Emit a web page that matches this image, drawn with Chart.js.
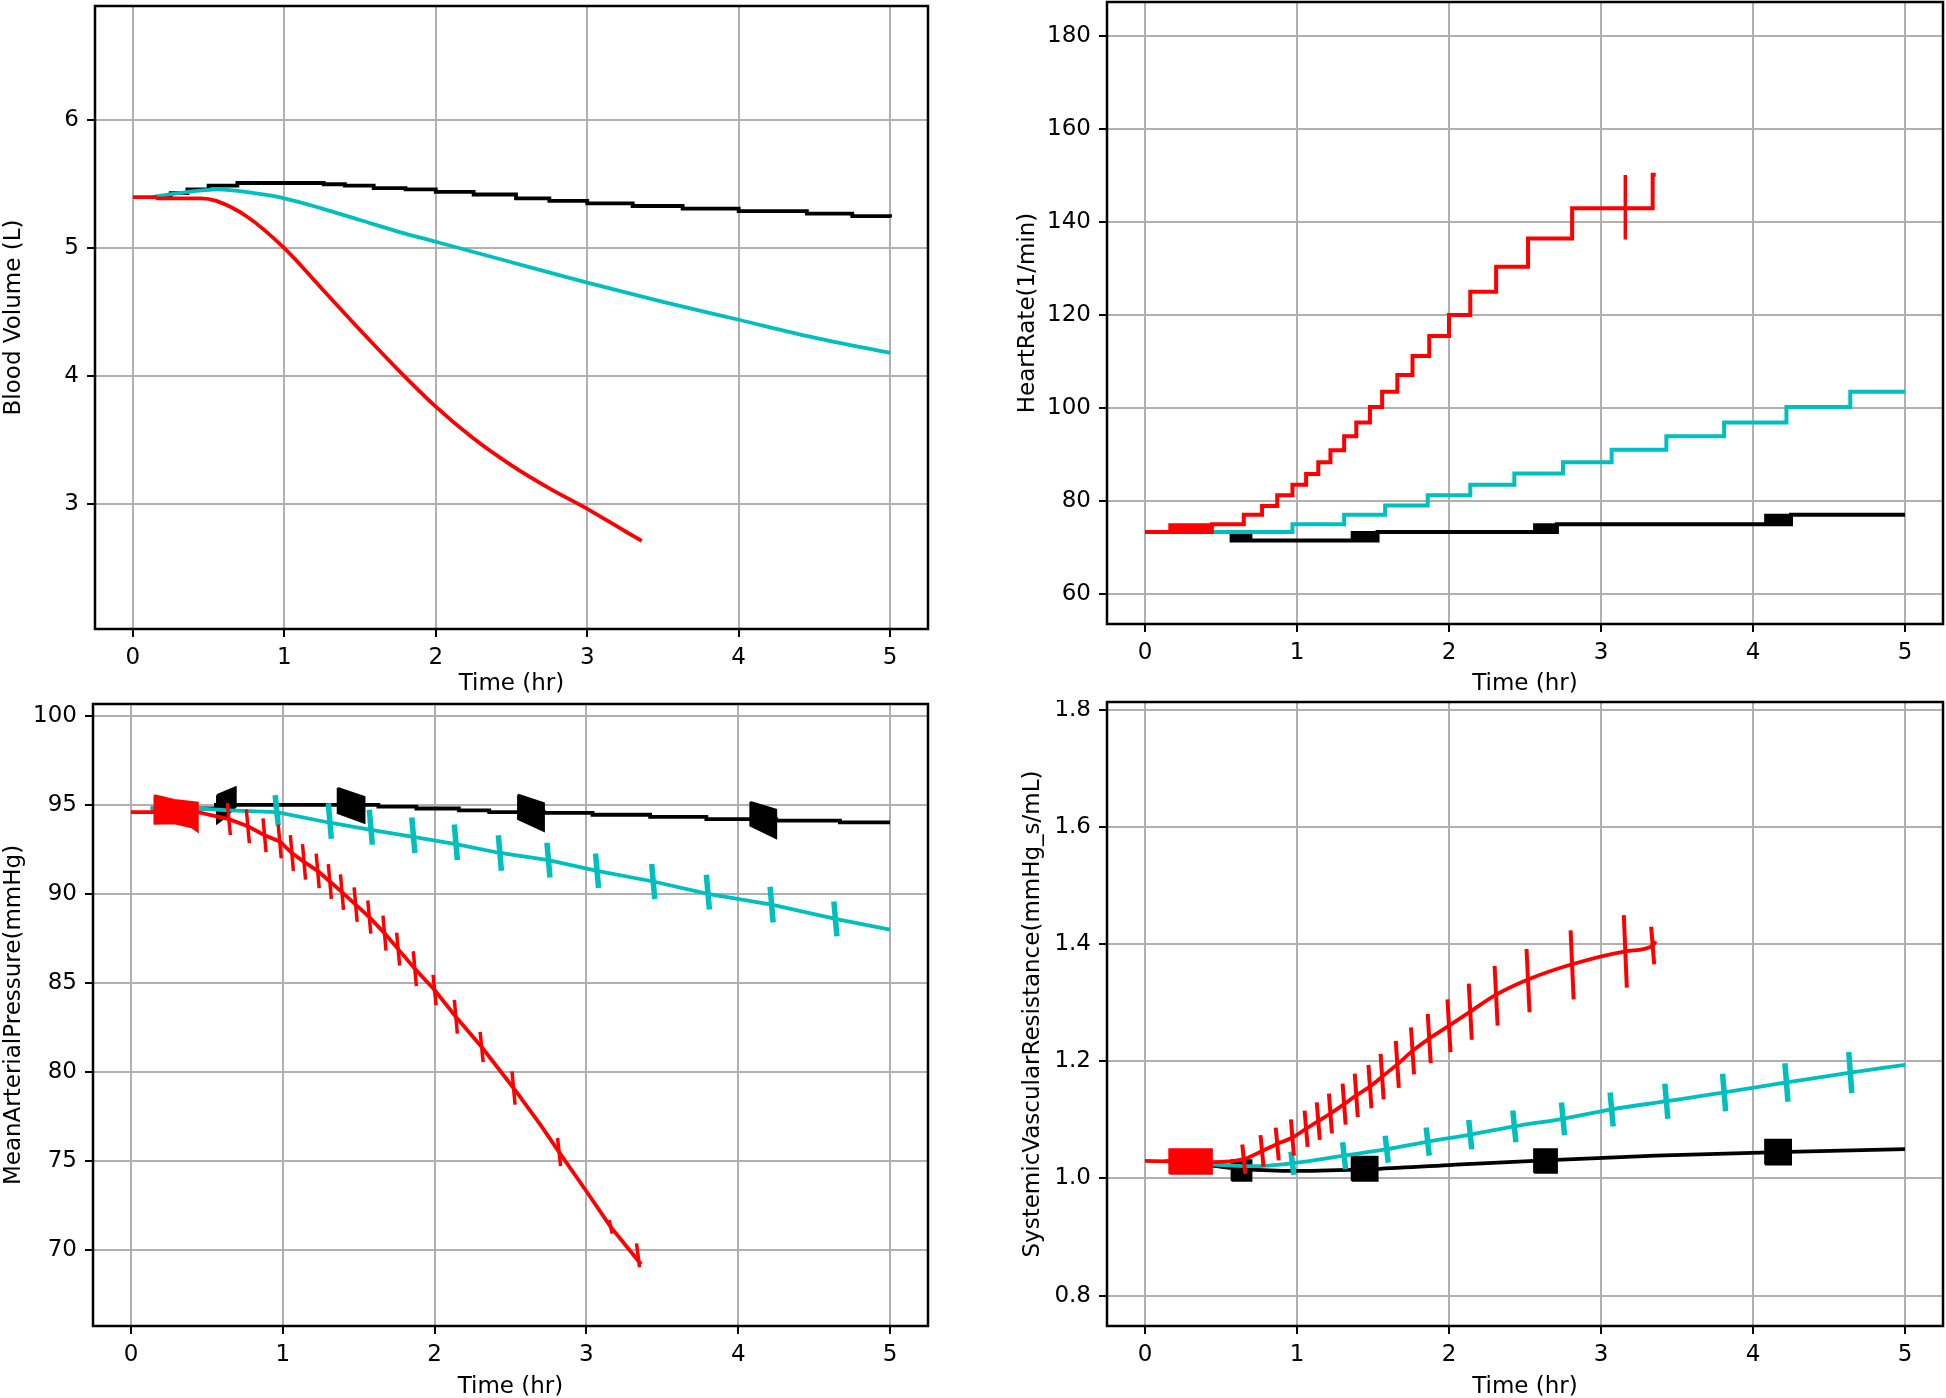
<!DOCTYPE html>
<html>
<head>
<meta charset="utf-8">
<script src="https://cdn.jsdelivr.net/npm/chart.js@4.4.0/dist/chart.umd.min.js"></script>
<style>
  body { margin: 0; background: #fff; width: 1946px; height: 1398px; position: relative; overflow: hidden; }
  canvas { position: absolute; }
</style>
</head>
<body>
<canvas id="bv" width="973" height="700" style="left:0;top:0"></canvas>
<canvas id="hr" width="973" height="700" style="left:973px;top:0"></canvas>
<canvas id="map" width="973" height="698" style="left:0;top:700px"></canvas>
<canvas id="svr" width="973" height="698" style="left:973px;top:700px"></canvas>
<script>
// ---- data ----
const timeTicks = [0, 1, 2, 3, 4, 5];

// Blood volume (L)
const bvTicks = [3, 4, 5, 6];
const bvRed = [[0, 5.40], [0.15, 5.40], [0.16, 5.39], [0.45, 5.39], [0.55, 5.37], [0.75, 5.25], [1.0, 5.0], [1.25, 4.68],
  [1.5, 4.36], [1.75, 4.05], [2.0, 3.76], [2.25, 3.51], [2.5, 3.30], [2.75, 3.12], [3.0, 2.96], [3.25, 2.785], [3.36, 2.71]];
const bvCyan = [[0.13, 5.40], [0.3, 5.43], [0.56, 5.46], [0.8, 5.43], [1.0, 5.39], [1.25, 5.31], [1.5, 5.22], [1.75, 5.13],
  [2.0, 5.05], [2.5, 4.89], [3.0, 4.73], [3.5, 4.58], [4.0, 4.44], [4.5, 4.30], [5.0, 4.18]];
const bvBlack = [[0.13, 5.40], [0.25, 5.43], [0.36, 5.46], [0.5, 5.49], [0.69, 5.51], [1.26, 5.50], [1.4, 5.49], [1.59, 5.47],
  [1.8, 5.46], [2.0, 5.44], [2.25, 5.42], [2.53, 5.39], [2.75, 5.37], [3.0, 5.35], [3.3, 5.33], [3.63, 5.31],
  [4.0, 5.29], [4.45, 5.27], [4.75, 5.25], [5.0, 5.24]];

// Heart rate (1/min), stepped
const hrTicks = [60, 80, 100, 120, 140, 160, 180];
const hrRed = [[0, 73.3], [0.44, 75.0], [0.65, 77.0], [0.77, 78.9], [0.87, 81.2], [0.97, 83.5], [1.06, 85.8], [1.14, 88.3],
  [1.22, 90.9], [1.31, 93.9], [1.39, 96.9], [1.48, 100.2], [1.56, 103.5], [1.66, 107.1], [1.76, 111.2], [1.87, 115.5],
  [2.0, 120.0], [2.14, 125.0], [2.31, 130.4], [2.52, 136.5], [2.81, 143.0], [3.34, 150.2], [3.36, 150.2]];
const hrRedBlocks = [[0.16, 0.44, 73.3, 75.0]];
const hrRedSpikes = [[3.16, 143.2, 6.95]];
const hrCyan = [[0.13, 73.3], [0.97, 75.0], [1.31, 77.0], [1.58, 79.0], [1.86, 81.2], [2.14, 83.5], [2.43, 85.9], [2.75, 88.3],
  [3.07, 91.0], [3.43, 93.9], [3.81, 96.9], [4.22, 100.2], [4.64, 103.5], [5.0, 103.5]];
const hrBlack = [[0.13, 73.3], [0.57, 71.5], [1.53, 73.3], [2.71, 75.0], [4.25, 77.0], [5.0, 77.0]];
const hrBlackBlocks = [[0.57, 0.70, 71.5, 73.3], [1.36, 1.53, 71.5, 73.3], [2.56, 2.71, 73.3, 75.0], [4.08, 4.25, 75.0, 77.0]];

// Mean arterial pressure (mmHg)
const mapTicks = [70, 75, 80, 85, 90, 95, 100];
const mapRed = [[0, 94.6], [0.44, 94.6], [0.645, 94.2], [0.77, 93.8], [0.88, 93.3], [0.98, 92.95], [1.06, 92.3], [1.14, 91.8],
  [1.23, 91.3], [1.31, 90.7], [1.39, 90.1], [1.48, 89.4], [1.57, 88.7], [1.67, 87.8], [1.76, 86.9], [1.87, 85.8],
  [2.0, 84.6], [2.14, 83.1], [2.31, 81.4], [2.52, 79.1], [2.7, 77.0], [2.82, 75.5], [3.0, 73.3], [3.16, 71.3], [3.36, 69.2]];
const mapRedBlock = [[0.155, 95.55], [0.285, 95.28], [0.44, 95.13], [0.44, 93.5], [0.40, 93.75], [0.285, 93.97], [0.155, 93.95], [0.155, 95.55]];
const mapRedSpikes = [[0.645, 94.2, 0.9], [0.77, 93.8, 0.95], [0.88, 93.3, 0.95], [0.98, 92.95, 0.95], [1.06, 92.3, 1.0],
  [1.14, 91.8, 1.0], [1.23, 91.3, 0.97], [1.31, 90.7, 0.98], [1.39, 90.1, 1.0], [1.48, 89.4, 0.97], [1.57, 88.7, 0.93],
  [1.67, 87.8, 0.98], [1.76, 86.9, 0.92], [1.87, 85.8, 0.98], [2.0, 84.6, 0.85], [2.14, 83.1, 0.95], [2.31, 81.4, 0.85],
  [2.52, 79.1, 0.93], [2.82, 75.5, 0.79], [3.16, 71.3, 0.38], [3.34, 69.7, 0.67]];
const mapCyan = [[0.13, 94.8], [0.44, 94.8], [0.65, 94.7], [0.96, 94.6], [1.31, 94.0], [1.58, 93.6], [1.86, 93.2], [2.14, 92.8],
  [2.43, 92.3], [2.75, 91.9], [3.07, 91.3], [3.44, 90.7], [3.8, 90.0], [4.22, 89.4], [4.64, 88.6], [5.0, 88.0]];
const mapCyanSpikes = [[0.96, 94.7, 0.85], [1.31, 94.1, 1.0], [1.58, 93.75, 0.98], [1.86, 93.3, 1.0], [2.14, 92.9, 1.0],
  [2.43, 92.3, 1.0], [2.75, 91.9, 0.98], [3.07, 91.3, 0.97], [3.44, 90.7, 0.98], [3.8, 90.1, 0.98], [4.22, 89.4, 1.0], [4.64, 88.6, 0.98]];
const mapBlack = [[0.13, 94.8], [0.56, 95.0], [1.63, 94.9], [1.88, 94.8], [2.16, 94.7], [2.36, 94.6], [2.72, 94.55],
  [3.04, 94.45], [3.42, 94.33], [3.79, 94.2], [4.25, 94.12], [4.67, 94.02], [5.0, 94.02]];
const mapBlackBlocks = [
  [[0.567, 95.55], [0.62, 95.75], [0.69, 96.0], [0.69, 94.9], [0.62, 94.3], [0.567, 93.97], [0.567, 95.55]],
  [[1.362, 95.95], [1.538, 95.45], [1.538, 94.0], [1.362, 94.55], [1.362, 95.95]],
  [[2.55, 95.57], [2.72, 95.1], [2.72, 93.54], [2.55, 94.2], [2.55, 95.57]],
  [[4.08, 95.17], [4.25, 94.73], [4.25, 93.13], [4.08, 93.84], [4.08, 95.17]]];

// Systemic vascular resistance (mmHg_s/mL)
const svrTicks = [0.8, 1.0, 1.2, 1.4, 1.6, 1.8];
const svrRed = [[0, 1.03], [0.44, 1.028], [0.65, 1.033], [0.77, 1.047], [0.87, 1.059], [0.97, 1.070], [1.06, 1.085], [1.14, 1.098],
  [1.22, 1.111], [1.31, 1.127], [1.39, 1.142], [1.48, 1.157], [1.56, 1.174], [1.66, 1.195], [1.76, 1.218], [1.87, 1.239],
  [2.0, 1.261], [2.14, 1.285], [2.31, 1.314], [2.52, 1.340], [2.81, 1.366], [3.16, 1.388], [3.34, 1.398], [3.36, 1.405]];
const svrRedBlocks = [[0.16, 0.44, 1.008, 1.05]];
const svrRedSpikes = [[0.65, 1.033, 0.025], [0.77, 1.047, 0.027], [0.87, 1.059, 0.028], [0.97, 1.070, 0.031], [1.06, 1.085, 0.031],
  [1.14, 1.098, 0.032], [1.22, 1.111, 0.034], [1.31, 1.127, 0.035], [1.39, 1.142, 0.037], [1.48, 1.157, 0.037],
  [1.56, 1.174, 0.039], [1.66, 1.195, 0.04], [1.76, 1.218, 0.04], [1.87, 1.239, 0.042], [2.0, 1.261, 0.045],
  [2.14, 1.285, 0.048], [2.31, 1.312, 0.051], [2.52, 1.338, 0.054], [2.81, 1.365, 0.059], [3.16, 1.388, 0.062], [3.34, 1.398, 0.032]];
const svrCyan = [[0.13, 1.03], [0.44, 1.024], [0.7, 1.021], [0.97, 1.026], [1.31, 1.039], [1.59, 1.050], [1.86, 1.063], [2.14, 1.075],
  [2.43, 1.089], [2.75, 1.102], [3.07, 1.118], [3.43, 1.132], [3.81, 1.147], [4.22, 1.164], [4.64, 1.181], [5.0, 1.194]];
const svrCyanSpikes = [[0.97, 1.026, 0.020], [1.31, 1.039, 0.023], [1.59, 1.050, 0.023], [1.86, 1.063, 0.024], [2.14, 1.075, 0.025],
  [2.43, 1.089, 0.027], [2.75, 1.102, 0.028], [3.07, 1.118, 0.029], [3.43, 1.132, 0.030], [3.81, 1.147, 0.032],
  [4.22, 1.164, 0.033], [4.64, 1.181, 0.035]];
const svrBlack = [[0.13, 1.03], [0.44, 1.022], [0.65, 1.016], [1.0, 1.013], [1.48, 1.016], [2.0, 1.023], [2.63, 1.031],
  [3.36, 1.039], [4.16, 1.045], [5.0, 1.050]];
const svrBlackBlocks = [[0.57, 0.70, 0.996, 1.031], [1.36, 1.53, 0.996, 1.037], [2.56, 2.71, 1.01, 1.05], [4.08, 4.25, 1.024, 1.066]];

// ---- styling ----
const RED = '#ff0000', CYAN = '#00bfbf', BLACK = '#000000', GRID = '#b0b0b0';
const FONT = { family: 'DejaVu Sans', size: 23 };
const SLANT = 0.01;
const LW = 3.8;

const xy = arr => arr.map(([x, y]) => ({ x, y }));
const rectPoly = ([t0, t1, lo, hi]) => [[t0, lo], [t0, hi], [t1, hi], [t1, lo], [t0, lo]];
function spikePts(list, slant) {
  const out = [];
  list.forEach(([t, c, h]) => {
    out.push({ x: t - slant, y: c + h }, { x: t + slant, y: c - h }, { x: t + slant, y: null });
  });
  return out;
}

function line(data, color, order, extra) {
  return Object.assign({ data: xy(data), borderColor: color, borderWidth: LW, pointRadius: 0, fill: false, order }, extra || {});
}
function block(poly, color, order) {
  return { data: xy(poly), borderColor: color, backgroundColor: color, borderWidth: 2, pointRadius: 0, fill: 'shape', order };
}
function spikes(list, color, width, order, slant) {
  const s = slant === undefined ? SLANT : slant;
  return { data: spikePts(list, s), borderColor: color, borderWidth: width, pointRadius: 0, fill: false, spanGaps: false, order };
}

const frame = {
  id: 'frame',
  afterDraw(chart) {
    const { ctx, chartArea: a } = chart;
    ctx.save();
    ctx.strokeStyle = '#000';
    ctx.lineWidth = 2.5;
    ctx.strokeRect(a.left, a.top, a.right - a.left, a.bottom - a.top);
    ctx.restore();
  }
};

function makeChart(id, p) {
  const gridOpts = { color: GRID, lineWidth: 2, tickColor: '#000', tickWidth: 2, tickLength: 8 };
  return new Chart(document.getElementById(id), {
    type: 'line',
    data: { datasets: p.datasets },
    options: {
      responsive: false,
      animation: false,
      devicePixelRatio: 1,
      layout: { padding: p.pad },
      plugins: { legend: { display: false }, tooltip: { enabled: false } },
      scales: {
        x: {
          type: 'linear', min: -0.25, max: 5.25,
          afterBuildTicks: s => { s.ticks = timeTicks.map(v => ({ value: v })); },
          afterFit: s => { s.height = p.xH; s.paddingLeft = 0; s.paddingRight = 0; },
          grid: gridOpts,
          border: { display: false },
          ticks: { font: FONT, color: '#000', padding: 7, maxRotation: 0, callback: v => String(v) },
          title: { display: true, text: 'Time (hr)', font: FONT, color: '#000', padding: { top: 0, bottom: p.xTitlePad } }
        },
        y: {
          type: 'linear', min: p.yMin, max: p.yMax,
          afterBuildTicks: s => { s.ticks = p.yTicks.map(v => ({ value: v })); },
          afterFit: s => { s.width = p.yW; s.paddingTop = 0; s.paddingBottom = 0; },
          grid: gridOpts,
          border: { display: false },
          ticks: { font: FONT, color: '#000', padding: 8, callback: p.yFmt || (v => String(v)) },
          title: { display: true, text: p.yTitle, font: FONT, color: '#000', padding: { top: p.yTitlePad, bottom: 0 } }
        }
      }
    },
    plugins: [frame]
  });
}

makeChart('bv', {
  pad: { left: 0, top: 6, right: 45, bottom: 0 }, yW: 95, xH: 71, xTitlePad: 2, yTitlePad: 0,
  yMin: 2.02, yMax: 6.895, yTicks: bvTicks, yTitle: 'Blood Volume (L)',
  datasets: [
    line(bvRed, RED, 0, { cubicInterpolationMode: 'monotone' }),
    line(bvCyan, CYAN, 2, { cubicInterpolationMode: 'monotone' }),
    line(bvBlack, BLACK, 4, { stepped: 'before' })
  ]
});

makeChart('hr', {
  pad: { left: 0, top: 2, right: 3, bottom: 0 }, yW: 134, xH: 76, xTitlePad: 2, yTitlePad: 41,
  yMin: 53.5, yMax: 187.4, yTicks: hrTicks, yTitle: 'HeartRate(1/min)',
  datasets: [
    line(hrRed, RED, 0, { stepped: 'before', borderWidth: 4 }),
    ...hrRedBlocks.map(b => block(rectPoly(b), RED, 1)),
    spikes(hrRedSpikes, RED, 3.5, 1, 0),
    line(hrCyan, CYAN, 2, { stepped: 'before', borderWidth: 4 }),
    line(hrBlack, BLACK, 4, { stepped: 'before', borderWidth: 4 }),
    ...hrBlackBlocks.map(b => block(rectPoly(b), BLACK, 5))
  ]
});

makeChart('map', {
  pad: { left: 0, top: 4, right: 45, bottom: 0 }, yW: 93, xH: 72, xTitlePad: -3, yTitlePad: 0,
  yMin: 65.73, yMax: 100.67, yTicks: mapTicks, yTitle: 'MeanArterialPressure(mmHg)',
  datasets: [
    line(mapRed, RED, 0),
    block(mapRedBlock, RED, 1),
    spikes(mapRedSpikes, RED, 3.5, 1),
    line(mapCyan, CYAN, 2),
    spikes(mapCyanSpikes, CYAN, 5.5, 3),
    line(mapBlack, BLACK, 4, { stepped: 'before' }),
    ...mapBlackBlocks.map(b => block(b, BLACK, 5))
  ]
});

makeChart('svr', {
  pad: { left: 0, top: 2, right: 3, bottom: 0 }, yW: 134, xH: 72, xTitlePad: -3, yTitlePad: 46,
  yMin: 0.748, yMax: 1.814, yTicks: svrTicks, yTitle: 'SystemicVascularResistance(mmHg_s/mL)',
  yFmt: v => v.toFixed(1),
  datasets: [
    line(svrRed, RED, 0, { cubicInterpolationMode: 'monotone' }),
    ...svrRedBlocks.map(b => block(rectPoly(b), RED, 1)),
    spikes(svrRedSpikes, RED, 4, 1),
    line(svrCyan, CYAN, 2, { cubicInterpolationMode: 'monotone' }),
    spikes(svrCyanSpikes, CYAN, 5.5, 3),
    line(svrBlack, BLACK, 4, { cubicInterpolationMode: 'monotone' }),
    ...svrBlackBlocks.map(b => block(rectPoly(b), BLACK, 5))
  ]
});
</script>
</body>
</html>
